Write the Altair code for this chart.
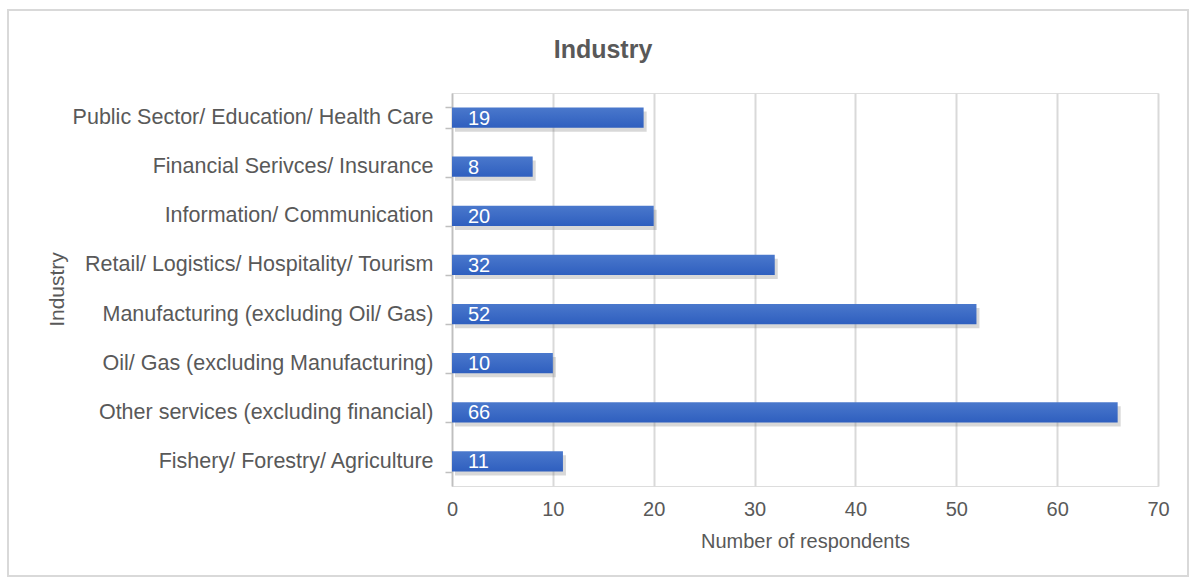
import altair as alt
import pandas as pd

categories = [
    "Public Sector/ Education/ Health Care",
    "Financial Serivces/ Insurance",
    "Information/ Communication",
    "Retail/ Logistics/ Hospitality/ Tourism",
    "Manufacturing (excluding Oil/ Gas)",
    "Oil/ Gas (excluding Manufacturing)",
    "Other services (excluding financial)",
    "Fishery/ Forestry/ Agriculture",
]
values = [19, 8, 20, 32, 52, 10, 66, 11]
x_ticks = [0, 10, 20, 30, 40, 50, 60, 70]

df = pd.DataFrame({"Industry": categories, "Respondents": values})

FONT = "Liberation Sans"
GREY = "#595959"

y_enc = alt.Y(
    "Industry:N",
    sort=categories,
    scale=alt.Scale(paddingInner=0.59, paddingOuter=0.295),
    axis=alt.Axis(
        title="Industry",
        titleFont=FONT, titleFontSize=21, titleFontWeight="normal", titleColor=GREY,
        titleX=-395, titleY=196, titleAngle=270, titleBaseline="middle", titleAlign="center",
        labelFont=FONT, labelFontSize=21.5, labelColor=GREY, labelPadding=12, labelLimit=420,
        domainColor="#bfbfbf", domainWidth=1.5,
        tickColor="#bfbfbf", tickSize=7, tickWidth=1.5, tickBand="extent",
        grid=False,
    ),
)

x_enc = alt.X(
    "Respondents:Q",
    scale=alt.Scale(domain=[0, 70], nice=False),
    axis=alt.Axis(
        title="Number  of respondents",
        values=x_ticks,
        titleFont=FONT, titleFontSize=20, titleFontWeight="normal", titleColor=GREY, titlePadding=12,
        labelFont=FONT, labelFontSize=20, labelColor=GREY, labelPadding=13, labelFlush=False,
        domain=False, ticks=False,
        grid=True, gridColor="#d9d9d9", gridWidth=2,
    ),
)

shadow = alt.Chart(df).mark_bar(color="#7f7f7f", opacity=0.3, xOffset=3, yOffset=4).encode(
    x=x_enc, y=y_enc
)

bars = alt.Chart(df).mark_bar(
    color=alt.Gradient(
        gradient="linear", x1=0, y1=0, x2=0, y2=1,
        stops=[alt.GradientStop(color="#4a78cc", offset=0), alt.GradientStop(color="#2f5fbf", offset=1)],
    )
).encode(x=x_enc, y=y_enc)

labels = alt.Chart(df).mark_text(
    align="left", baseline="middle", dx=16, dy=1, color="white", font=FONT, fontSize=20
).encode(
    x=alt.datum(0),
    y=alt.Y("Industry:N", sort=categories),
    text="Respondents:Q",
)

border = alt.Chart(df).mark_rect(fill=None, stroke="#d9d9d9", strokeWidth=2).encode(
    x=alt.value(-444), x2=alt.value(736), y=alt.value(-83), y2=alt.value(483)
)

chart = alt.layer(border, shadow, bars, labels).properties(
    width=706,
    height=393,
    autosize=alt.AutoSizeParams(type="none"),
    padding={"left": 452, "top": 93, "right": 36, "bottom": 97},
    title=alt.TitleParams(
        "Industry", font=FONT, fontSize=25, fontWeight="bold", color=GREY,
        anchor="middle", dx=-202, offset=-54,
    ),
).configure_view(stroke=None).configure(background="white")

chart.save("out.html", embed_options={"renderer": "svg", "actions": False})
